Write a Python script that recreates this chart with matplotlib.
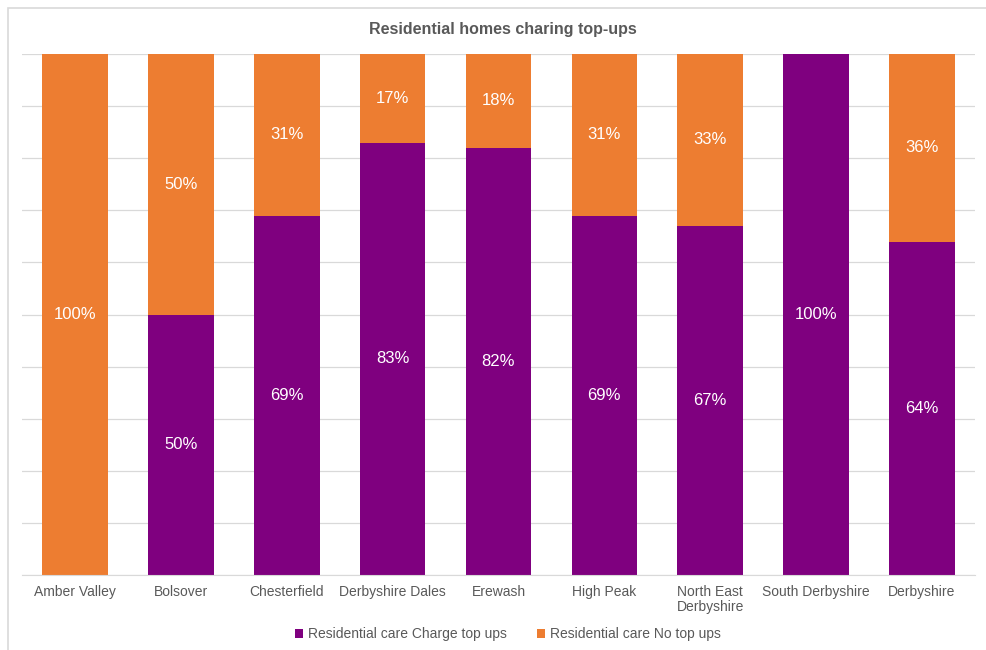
import numpy as np
import matplotlib.pyplot as plt
from matplotlib.patches import Rectangle

plt.rcParams['font.family'] = ['Liberation Sans', 'DejaVu Sans']

categories = ['Amber Valley', 'Bolsover', 'Chesterfield', 'Derbyshire Dales', 'Erewash',
              'High Peak', 'North East\nDerbyshire', 'South Derbyshire', 'Derbyshire']
charge_top_ups = [0, 50, 69, 83, 82, 69, 67, 100, 64]
no_top_ups = [100, 50, 31, 17, 18, 31, 33, 0, 36]

purple = '#7F007F'
orange = '#ED7D31'
grey = '#595959'

fig = plt.figure(figsize=(9.86, 6.5), dpi=100)
ax = fig.add_axes([0.0223, 0.1154, 0.9665, 0.8015])

# marco del gráfico
fig.patches.append(Rectangle((0.008, -0.01), 1.0, 0.998, transform=fig.transFigure,
                             fill=False, edgecolor='#D9D9D9', linewidth=1.2))

x = np.arange(len(categories))
charge = np.array(charge_top_ups) / 100
no = np.array(no_top_ups) / 100
w = 0.62

ax.bar(x, charge, w, color=purple, label='Residential care Charge top ups', zorder=2)
ax.bar(x, no, w, bottom=charge, color=orange, label='Residential care No top ups', zorder=2)

for i in range(len(x)):
    if charge_top_ups[i] > 0:
        ax.text(x[i], charge[i] / 2, f'{charge_top_ups[i]}%', ha='center', va='center',
                color='white', fontsize=12)
    if no_top_ups[i] > 0:
        ax.text(x[i], charge[i] + no[i] / 2, f'{no_top_ups[i]}%', ha='center', va='center',
                color='white', fontsize=12)

ax.set_xlim(-0.5, len(x) - 0.5)
ax.set_ylim(0, 1)
ax.set_yticks(np.arange(0, 1.01, 0.1))
ax.yaxis.grid(True, color='#D9D9D9', linewidth=0.9, zorder=0)
ax.tick_params(axis='y', left=False, labelleft=False)
ax.tick_params(axis='x', length=0, pad=7, colors=grey, labelsize=10)
ax.set_xticks(x)
ax.set_xticklabels(categories, linespacing=1.1)
for s in ['top', 'right', 'left']:
    ax.spines[s].set_visible(False)
ax.spines['bottom'].set_color('#D9D9D9')

fig.text(0.51, 0.955, 'Residential homes charing top-ups', ha='center', va='center',
         fontsize=11.5, fontweight='bold', color=grey)

fig.legend(loc='center', bbox_to_anchor=(0.515, 0.024), ncol=2, frameon=False,
           fontsize=10, handlelength=0.6, handleheight=0.6, handletextpad=0.3,
           columnspacing=2.2, labelcolor=grey)

plt.savefig('out.png', dpi=100)
